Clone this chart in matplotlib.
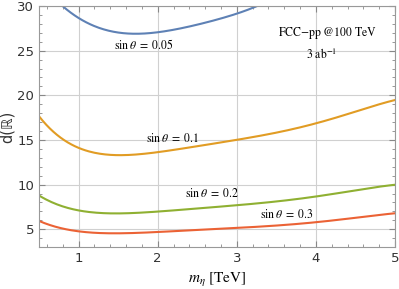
import numpy as np
import matplotlib
matplotlib.use("Agg")
import matplotlib.pyplot as plt
from matplotlib.ticker import MultipleLocator

# values (m_eta in TeV, d(R))
m_005 = [0.80, 1.0, 1.25, 1.5, 1.78, 2.0, 2.25, 2.5, 2.75, 3.0, 3.25]
d_005 = [30.0, 28.6, 27.6, 27.1, 26.9, 27.0, 27.4, 28.0, 28.5, 29.1, 30.0]

m_01 = [0.5, 0.6, 0.75, 0.9, 1.0, 1.25, 1.6, 2.0, 2.5, 3.0, 3.5, 4.0, 4.5, 5.0]
d_01 = [17.8, 16.5, 15.3, 14.5, 14.1, 13.6, 13.4, 13.6, 14.2, 15.0, 15.9, 16.9, 18.1, 19.5]

m_02 = [0.5, 0.6, 0.75, 0.9, 1.0, 1.25, 1.5, 2.0, 2.5, 3.0, 3.5, 4.0, 4.5, 5.0]
d_02 = [8.9, 8.2, 7.6, 7.25, 7.13, 6.92, 6.85, 6.94, 7.25, 7.7, 8.15, 8.7, 9.3, 10.0]

m_03 = [0.5, 0.6, 0.75, 0.9, 1.0, 1.25, 1.6, 2.0, 2.5, 3.0, 3.5, 4.0, 4.5, 5.0]
d_03 = [6.0, 5.55, 5.1, 4.85, 4.78, 4.66, 4.6, 4.66, 4.87, 5.15, 5.45, 5.8, 6.25, 6.8]

series = [
    (m_005, d_005, "#5E81B5", r"$\sin\theta\ =\ 0.05$", 1.82, 25.6),
    (m_01, d_01, "#E19C24", r"$\sin\theta\ =\ 0.1$", 2.19, 15.2),
    (m_02, d_02, "#8FB032", r"$\sin\theta\ =\ 0.2$", 2.69, 9.0),
    (m_03, d_03, "#EB6235", r"$\sin\theta\ =\ 0.3$", 3.63, 6.7),
]

plt.rcParams['mathtext.fontset'] = 'stix'

fig = plt.figure(figsize=(3.99, 2.89), dpi=100)
ax = fig.add_axes([0.098, 0.145, 0.892, 0.834])

for m, d, c, lab, lx, ly in series:
    # smooth the read points with a polynomial fit through them
    mm = np.linspace(m[0], m[-1], 200)
    coef = np.polyfit(m, d, min(5, len(m) - 1))
    ax.plot(mm, np.polyval(coef, mm), color=c, lw=1.5)
    ax.text(lx, ly, lab, fontsize=8.5, family='STIXGeneral', ha='center', va='center')

ax.text(4.15, 27.0, "FCC$-$pp @100 TeV", fontsize=8.5, family='STIXGeneral',
        ha='center', va='center')
ax.text(4.07, 24.5, r"3 ab$^{-1}$", fontsize=8.5, family='STIXGeneral',
        ha='center', va='center')

ax.set_xlim(0.5, 5)
ax.set_ylim(3, 30)
ax.xaxis.set_major_locator(MultipleLocator(1))
ax.xaxis.set_minor_locator(MultipleLocator(0.2))
ax.yaxis.set_major_locator(MultipleLocator(5))
ax.yaxis.set_minor_locator(MultipleLocator(1))
ax.grid(True, which='major', color='#d0d0d0', lw=0.8)
ax.tick_params(which='both', direction='in', top=True, right=True,
               color='#888888', labelcolor='#333333', labelsize=9.5)
ax.tick_params(which='major', length=4)
ax.tick_params(which='minor', length=2)
for s in ax.spines.values():
    s.set_color('#999999')

ax.set_xlabel(r"$m_\eta$ [TeV]", fontsize=11, family='STIXGeneral', labelpad=4)
ax.set_ylabel("d(ℝ)", fontsize=10.5, color='#333333', labelpad=2)

fig.savefig("out.png", dpi=100)
